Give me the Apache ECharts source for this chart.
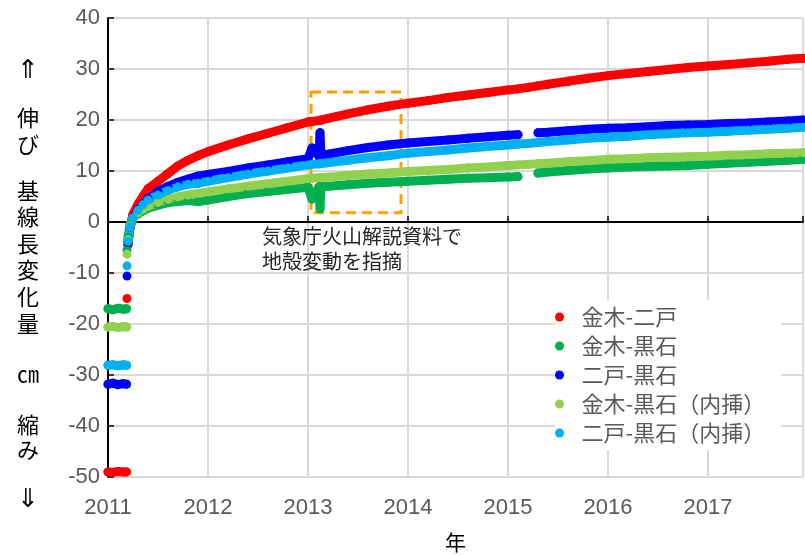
<!DOCTYPE html>
<html>
<head>
<meta charset="utf-8">
<script src="https://cdn.jsdelivr.net/npm/echarts@6/dist/echarts.min.js"></script>
<style>
  html, body { margin: 0; padding: 0; background: #fff; }
  #chart { width: 805px; height: 555px; }
</style>
</head>
<body>
<div id="chart"></div>
<script>
// 時刻（年の小数表示）
var t = [
  2011.00, 2011.05, 2011.10, 2011.15, 2011.185,
  2011.187, 2011.19, 2011.192,
  2011.20, 2011.22, 2011.25, 2011.30, 2011.35, 2011.40, 2011.50, 2011.60, 2011.70, 2011.80, 2011.90,
  2012.00, 2012.20, 2012.40, 2012.60, 2012.80, 2013.00,
  2013.04, 2013.11, 2013.12, 2013.13,
  2013.20, 2013.40, 2013.60, 2013.80, 2014.00, 2014.20, 2014.40, 2014.60, 2014.80, 2015.00, 2015.10,
  2015.20,
  2015.30, 2015.40, 2015.60, 2015.80, 2016.00, 2016.20, 2016.40, 2016.60, 2016.80, 2017.00, 2017.20, 2017.40, 2017.60, 2017.80, 2017.95
];
// 金木-二戸
var kanagiNinohe = [
  -49.0, -49.1, -48.9, -49.0, -49.0,
  null, -15.0, null,
  -4.5, -1.0, 1.5, 3.5, 5.0, 6.5, 8.0, 9.5, 11.0, 12.1, 13.0,
  13.8, 15.1, 16.3, 17.4, 18.5, 19.6,
  19.7, 19.9, 19.9, 20.0,
  20.3, 21.2, 22.0, 22.7, 23.3, 23.8, 24.4, 24.9, 25.4, 25.9, 26.1,
  26.4,
  26.7, 27.0, 27.6, 28.2, 28.7, 29.1, 29.5, 29.9, 30.3, 30.6, 30.9, 31.2, 31.5, 31.9, 32.1
];
// 金木-黒石
var kanagiKuroishi = [
  -17.0, -17.2, -16.9, -17.1, -17.0,
  null, -5.5, null,
  -3.0, -0.5, 0.8, 1.6, 2.2, 2.7, 3.3, 3.8, 4.0, 4.2, 4.0,
  4.3, 5.0, 5.6, 6.0, 6.4, 6.8,
  4.5, 6.9, 2.6, 6.9,
  7.0, 7.3, 7.6, 7.8, 8.0, 8.2, 8.4, 8.6, 8.7, 8.8, 8.9,
  null,
  9.6, 9.8, 10.1, 10.4, 10.6, 10.8, 10.9, 11.0, 11.1, 11.3, 11.5, 11.7, 11.9, 12.1, 12.3
];
// 二戸-黒石
var ninoheKuroishi = [
  -31.8, -31.6, -31.9, -31.7, -31.8,
  null, -10.6, null,
  -4.0, -1.0, 1.0, 2.5, 3.7, 4.6, 6.0, 7.0, 7.8, 8.4, 9.0,
  9.3, 9.9, 10.6, 11.2, 11.8, 12.4,
  14.5, 12.9, 17.5, 13.1,
  13.3, 14.0, 14.6, 15.1, 15.5, 15.8, 16.1, 16.4, 16.7, 17.0, 17.1,
  null,
  17.5, 17.6, 17.9, 18.2, 18.4, 18.5, 18.7, 18.9, 19.0, 19.1, 19.3, 19.4, 19.6, 19.8, 20.0
];
// 金木-黒石（内挿）
var kanagiKuroishiInterp = [
  -20.6, -20.5, -20.7, -20.5, -20.6,
  null, -6.3, null,
  -3.5, -0.8, 0.8, 1.8, 2.5, 3.0, 3.8, 4.4, 4.9, 5.3, 5.6,
  5.9, 6.5, 7.0, 7.5, 8.0, 8.5,
  8.6, 8.7, 8.7, 8.7,
  8.8, 9.1, 9.4, 9.6, 9.9, 10.1, 10.3, 10.6, 10.8, 11.1, 11.2,
  11.3,
  11.4, 11.5, 11.8, 12.0, 12.3, 12.4, 12.6, 12.7, 12.8, 12.9, 13.1, 13.2, 13.4, 13.5, 13.6
];
// 二戸-黒石（内挿）
var ninoheKuroishiInterp = [
  -28.1, -28.0, -28.2, -28.0, -28.1,
  null, -8.6, null,
  -3.8, -1.0, 0.8, 2.3, 3.4, 4.3, 5.3, 6.2, 6.9, 7.4, 7.6,
  8.0, 8.7, 9.4, 10.0, 10.6, 11.2,
  11.3, 11.4, 11.4, 11.5,
  11.6, 12.1, 12.6, 13.0, 13.5, 13.8, 14.1, 14.5, 14.8, 15.1, 15.3,
  15.4,
  15.6, 15.8, 16.1, 16.4, 16.6, 16.8, 17.1, 17.3, 17.5, 17.6, 17.8, 18.0, 18.2, 18.4, 18.6
];

var names = ['金木-二戸', '金木-黒石', '二戸-黒石', '金木-黒石（内挿）', '二戸-黒石（内挿）'];
var colors = ['#FF0000', '#00B050', '#0000FF', '#92D050', '#00B0F0'];
var values = [kanagiNinohe, kanagiKuroishi, ninoheKuroishi, kanagiKuroishiInterp, ninoheKuroishiInterp];

// 注記の枠（年, cm）
var boxX = [2013.03, 2013.93];
var boxY = [1.8, 25.5];

function pairs(v) {
  return t.map(function (x, i) {
    return [x, v[i] == null ? '-' : v[i]];
  });
}

var chart = echarts.init(document.getElementById('chart'));

var series = names.map(function (n, k) {
  return {
    name: n,
    type: 'line',
    data: pairs(values[k]),
    connectNulls: false,
    showSymbol: true,
    showAllSymbol: true,
    symbol: 'circle',
    symbolSize: 9,
    itemStyle: { color: colors[k] },
    lineStyle: { color: colors[k], width: 9, cap: 'round', join: 'round' },
    emphasis: { disabled: true },
    animation: false
  };
});
series.push({
  name: '_box',
  type: 'line',
  data: [],
  z: 10,
  animation: false,
  markArea: {
    silent: true,
    itemStyle: {
      color: 'rgba(0,0,0,0)',
      borderColor: '#FFA000',
      borderWidth: 3,
      borderType: [10, 6]
    },
    data: [[{ coord: [boxX[0], boxY[1]] }, { coord: [boxX[1], boxY[0]] }]]
  }
});

var sideFont = { fontFamily: 'Noto Sans CJK JP', fontSize: 22, fontWeight: 'normal', color: '#000' };
function side(text, top, lh, size) {
  return {
    text: text, left: 17, top: top, padding: 0,
    textStyle: Object.assign({}, sideFont, { lineHeight: lh, fontSize: size || 22 })
  };
}

var option = {
  backgroundColor: '#fff',
  title: [
    side('⇑', 53, 30, 26),
    side('伸\nび', 104, 27),
    side('基\n線\n長\n変\n化\n量', 177, 26.6),
    side('㎝', 361, 26),
    side('縮\nみ', 412, 25),
    side('⇓', 482, 30, 26),
    {
      text: '気象庁火山解説資料で\n地殻変動を指摘',
      left: 262, top: 224, padding: 0,
      textStyle: { fontFamily: 'Noto Sans CJK JP', fontSize: 20, fontWeight: 'normal', color: '#262626', lineHeight: 25 }
    }
  ],
  legend: {
    data: names,
    orient: 'vertical',
    left: 555,
    top: 300,
    icon: 'circle',
    itemWidth: 34,
    itemHeight: 9,
    itemGap: 7,
    padding: [6, 16, 6, 0],
    backgroundColor: '#fff',
    textStyle: { fontFamily: 'Noto Sans CJK JP', fontSize: 22, color: '#595959', lineHeight: 22 }
  },
  grid: { left: 108, right: 2, top: 18, bottom: 78, outerBoundsMode: 'none', containLabel: false },
  xAxis: {
    type: 'value',
    min: 2011,
    max: 2017.95,
    interval: 1,
    name: '年',
    nameLocation: 'middle',
    nameGap: 55,
    nameTextStyle: { fontFamily: 'Noto Sans CJK JP', fontSize: 21, color: '#000' },
    axisLine: { lineStyle: { color: '#000', width: 2 } },
    axisTick: { inside: true, length: 6, lineStyle: { color: '#000', width: 1.5 } },
    axisLabel: {
      margin: 20,
      fontFamily: 'Liberation Sans', fontSize: 22, color: '#595959',
      formatter: function (v) { return Math.abs(v - Math.round(v)) < 1e-6 ? String(Math.round(v)) : ''; }
    },
    splitLine: { show: true, lineStyle: { color: '#d9d9d9', width: 2 } }
  },
  yAxis: {
    type: 'value',
    min: -50,
    max: 40,
    interval: 10,
    axisLine: { show: true, lineStyle: { color: '#000', width: 2 } },
    axisTick: { show: true, inside: true, length: 6, lineStyle: { color: '#000', width: 1.5 } },
    axisLabel: { margin: 8, fontFamily: 'Liberation Sans', fontSize: 22, color: '#595959' },
    splitLine: { show: true, lineStyle: { color: '#d9d9d9', width: 2 } }
  },
  series: series
};

chart.setOption(option);
</script>
</body>
</html>
